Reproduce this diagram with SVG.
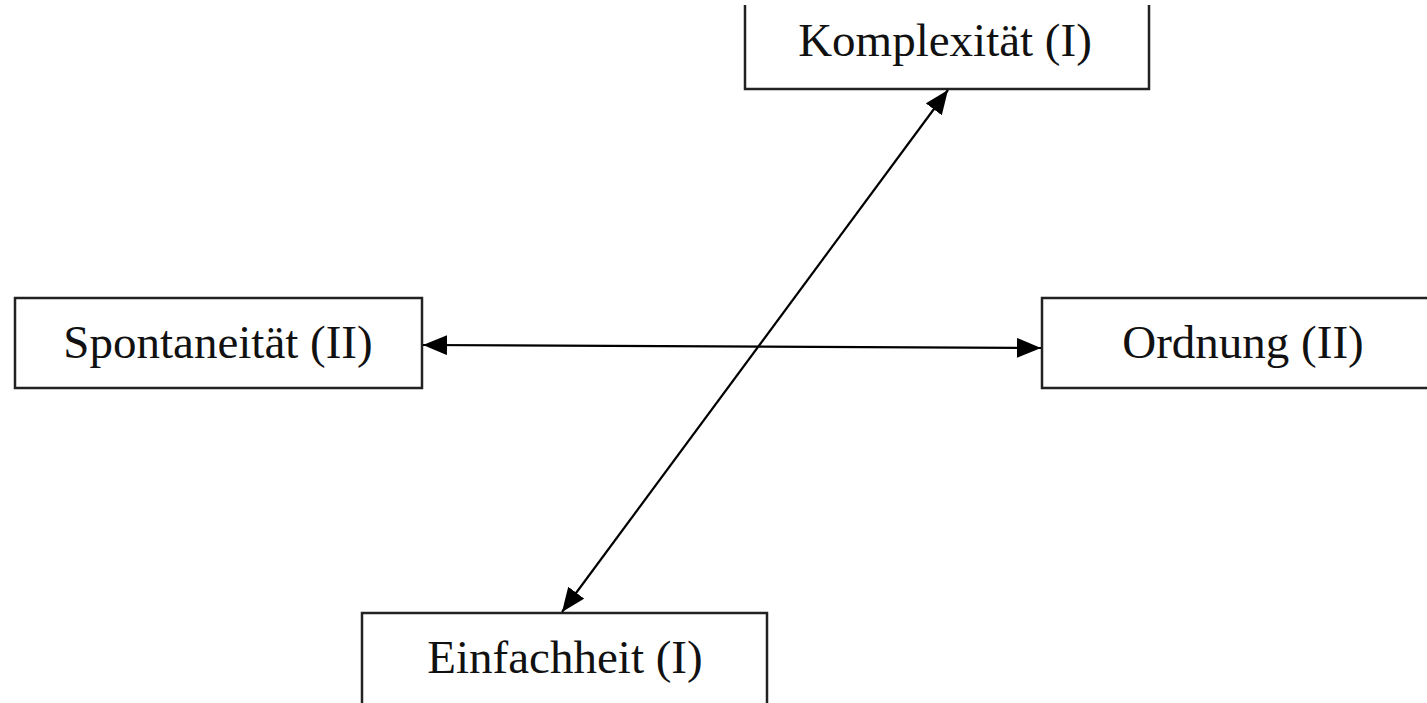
<svg xmlns="http://www.w3.org/2000/svg" width="1427" height="703" viewBox="0 0 1427 703">
<style>
.box{fill:#fff;stroke:#222;stroke-width:2.5}
.lbl{font-family:"Liberation Serif","Times New Roman",serif;font-size:47px;fill:#111;text-anchor:middle}
.con{stroke:#000;stroke-width:2.2;fill:none}
</style>
<defs>
<marker id="ah" viewBox="0 0 24 20" refX="24" refY="10" markerWidth="24" markerHeight="20" markerUnits="userSpaceOnUse" orient="auto-start-reverse">
<path d="M0,0 L24,10 L0,20 Z" fill="#000"/>
</marker>
</defs>
<rect width="1427" height="703" fill="#fff"/>
<g id="node-komplexitaet">
<path class="box" d="M745,5 V89 H1149 V5"/>
<text class="lbl" x="945" y="56">Komplexität (I)</text>
</g>
<g id="node-spontaneitaet">
<rect class="box" x="15" y="298" width="407" height="90"/>
<text class="lbl" x="218" y="358">Spontaneität (II)</text>
</g>
<g id="node-ordnung">
<path class="box" d="M1440,298 H1042 V388 H1440"/>
<text class="lbl" x="1243" y="358">Ordnung (II)</text>
</g>
<g id="node-einfachheit">
<path class="box" d="M362,710 V613 H767 V710"/>
<text class="lbl" x="565" y="673">Einfachheit (I)</text>
</g>
<g id="connectors">
<line class="con" x1="562" y1="612" x2="948" y2="90" marker-start="url(#ah)" marker-end="url(#ah)"/>
<line class="con" x1="423" y1="345" x2="1041" y2="348" marker-start="url(#ah)" marker-end="url(#ah)"/>
</g>
</svg>
